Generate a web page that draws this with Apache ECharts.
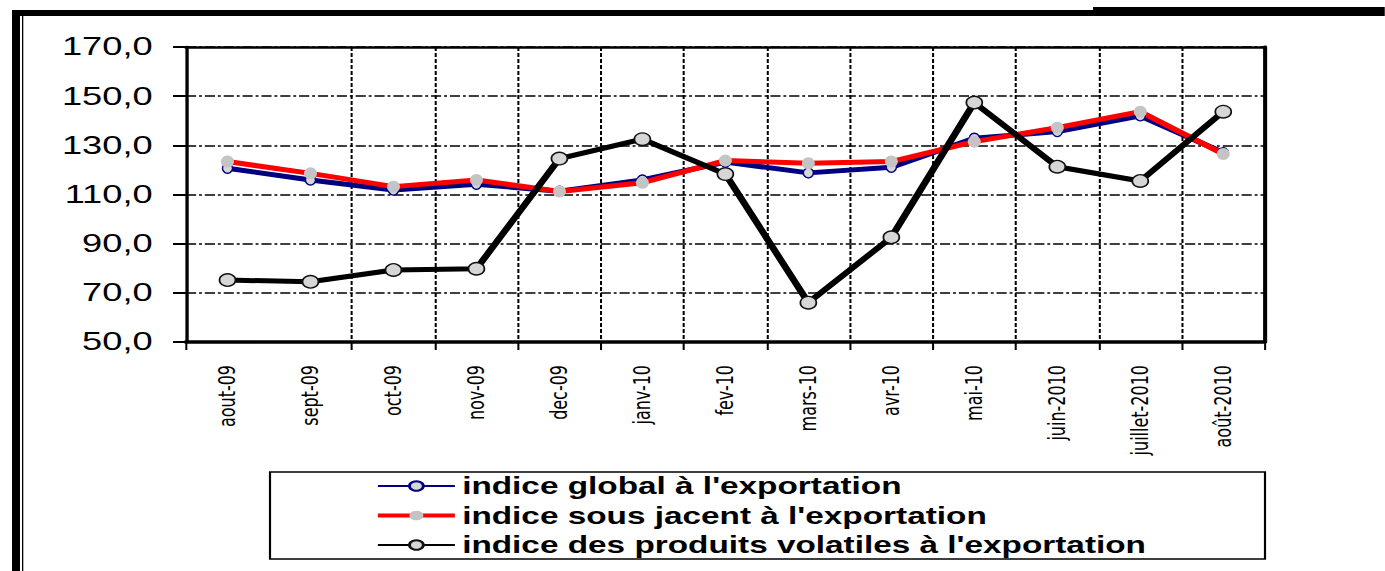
<!DOCTYPE html>
<html>
<head>
<meta charset="utf-8">
<script src="https://cdn.jsdelivr.net/npm/echarts@6/dist/echarts.min.js"></script>
<style>
  html, body { margin: 0; padding: 0; background: #fff; overflow: hidden; }
  /* the original figure is stretched horizontally, so draw narrow and stretch */
  #chart { width: 955px; height: 571px; transform: scaleX(1.45); transform-origin: 0 0; }
</style>
</head>
<body>
<div id="chart"></div>
<script>
// data
const categories = ['aout-09', 'sept-09', 'oct-09', 'nov-09', 'dec-09', 'janv-10', 'fev-10',
  'mars-10', 'avr-10', 'mai-10', 'juin-2010', 'juillet-2010', 'août-2010'];
const indiceGlobal = [120.7, 115.9, 111.8, 114.2, 111.3, 115.9, 123.2, 118.8, 121.1, 132.9, 135.6, 142.0, 127.0];
const indiceSousJacent = [123.4, 118.6, 113.2, 115.9, 111.2, 114.8, 123.8, 122.7, 123.4, 131.5, 137.2, 143.7, 126.5];
const indiceVolatiles = [75.2, 74.5, 79.3, 79.8, 124.6, 132.5, 118.3, 66.0, 92.6, 147.4, 121.3, 115.5, 143.7];
const seriesNames = ["indice global à l'exportation", "indice sous jacent à l'exportation",
  "indice des produits volatiles à l'exportation"];
const yMin = 50, yMax = 170, yStep = 20;

const S = 1.45; // horizontal stretch
const chart = echarts.init(document.getElementById('chart'), null, {renderer: 'svg'});

const option = {
  animation: false,
  backgroundColor: '#fff',
  grid: {left: 186 / S, right: 955.17 - 1265 / S, top: 47, bottom: 571 - 342, containLabel: false, outerBoundsMode: 'none'},
  legend: {
    orient: 'vertical',
    left: 375 / S,
    top: 472,
    padding: 0,
    itemWidth: 77 / S,
    itemHeight: 12,
    itemGap: 1.5,
    textStyle: {fontFamily: 'Liberation Sans, Arial, sans-serif', fontWeight: 'bold', fontSize: 23, color: '#000', lineHeight: 28},
    data: [
      {name: seriesNames[0], lineStyle: {width: 2}},
      {name: seriesNames[1], lineStyle: {width: 4}},
      {name: seriesNames[2], lineStyle: {width: 2}}
    ]
  },
  xAxis: [{
    type: 'category',
    data: categories,
    boundaryGap: true,
    axisLine: {lineStyle: {color: '#000', width: 3.5}},
    axisTick: {show: true, length: 8, lineStyle: {color: '#000', width: 1.4}, interval: (i) => i !== 1},
    splitLine: {show: true, interval: (i) => i >= 2, lineStyle: {color: '#000', width: 1.4, type: [4, 2]}},
    axisLabel: {rotate: 90, margin: 23, interval: 0, color: '#000', fontFamily: 'DejaVu Sans, sans-serif', fontSize: 16}
  }, {
    type: 'category',
    data: categories,
    position: 'top',
    axisLine: {lineStyle: {color: '#000', width: 2.5}},
    axisTick: {show: false},
    axisLabel: {show: false}
  }],
  yAxis: [{
    type: 'value',
    min: yMin,
    max: yMax,
    interval: yStep,
    axisLine: {show: true, lineStyle: {color: '#000', width: 2.3}},
    axisTick: {show: true, length: 13 / S, lineStyle: {color: '#000', width: 2}},
    splitLine: {show: true, lineStyle: {color: '#000', width: 1.6, type: [7, 2, 2, 2]}},
    axisLabel: {
      margin: 23,
      color: '#000',
      fontFamily: 'Liberation Sans, Arial, sans-serif',
      fontSize: 25,
      formatter: (v) => v.toFixed(1).replace('.', ',')
    }
  }, {
    type: 'value',
    min: yMin,
    max: yMax,
    interval: yStep,
    position: 'right',
    axisLine: {show: true, lineStyle: {color: '#000', width: 2.8}},
    axisTick: {show: false},
    axisLabel: {show: false},
    splitLine: {show: false}
  }],
  series: [
    {
      name: seriesNames[0],
      type: 'line',
      data: indiceGlobal,
      symbol: 'circle',
      symbolSize: [7, 10],
      lineStyle: {color: '#000080', width: 5},
      itemStyle: {color: '#d6d6d6', borderColor: '#000080', borderWidth: 1.2}
    },
    {
      name: seriesNames[1],
      type: 'line',
      data: indiceSousJacent,
      symbol: 'circle',
      symbolSize: [9, 12],
      lineStyle: {color: '#ff0000', width: 5},
      itemStyle: {color: '#c4c4c4', borderWidth: 0}
    },
    {
      name: seriesNames[2],
      type: 'line',
      data: indiceVolatiles,
      symbol: 'circle',
      symbolSize: [11, 12.5],
      lineStyle: {color: '#000', width: 5},
      itemStyle: {color: '#d6d6d6', borderColor: '#111', borderWidth: 1.3}
    }
  ],
  graphic: [
    // outer frame of the figure
    {type: 'rect', shape: {x: 12 / S, y: 10, width: (1093 - 12) / S, height: 6}, style: {fill: '#000'}},
    {type: 'rect', shape: {x: 1093 / S, y: 7, width: (1385 - 1093) / S, height: 9}, style: {fill: '#000'}},
    {type: 'rect', shape: {x: 12 / S, y: 10, width: 8 / S, height: 561}, style: {fill: '#000'}},
    {type: 'rect', shape: {x: 22 / S, y: 16, width: 1.3 / S, height: 555}, style: {fill: '#000'}},
    // legend box
    {type: 'rect', shape: {x: 270 / S, y: 472, width: (1265 - 270) / S, height: 87}, style: {fill: 'none', stroke: '#000', lineWidth: 1.5}}
  ]
};

chart.setOption(option);
</script>
</body>
</html>
